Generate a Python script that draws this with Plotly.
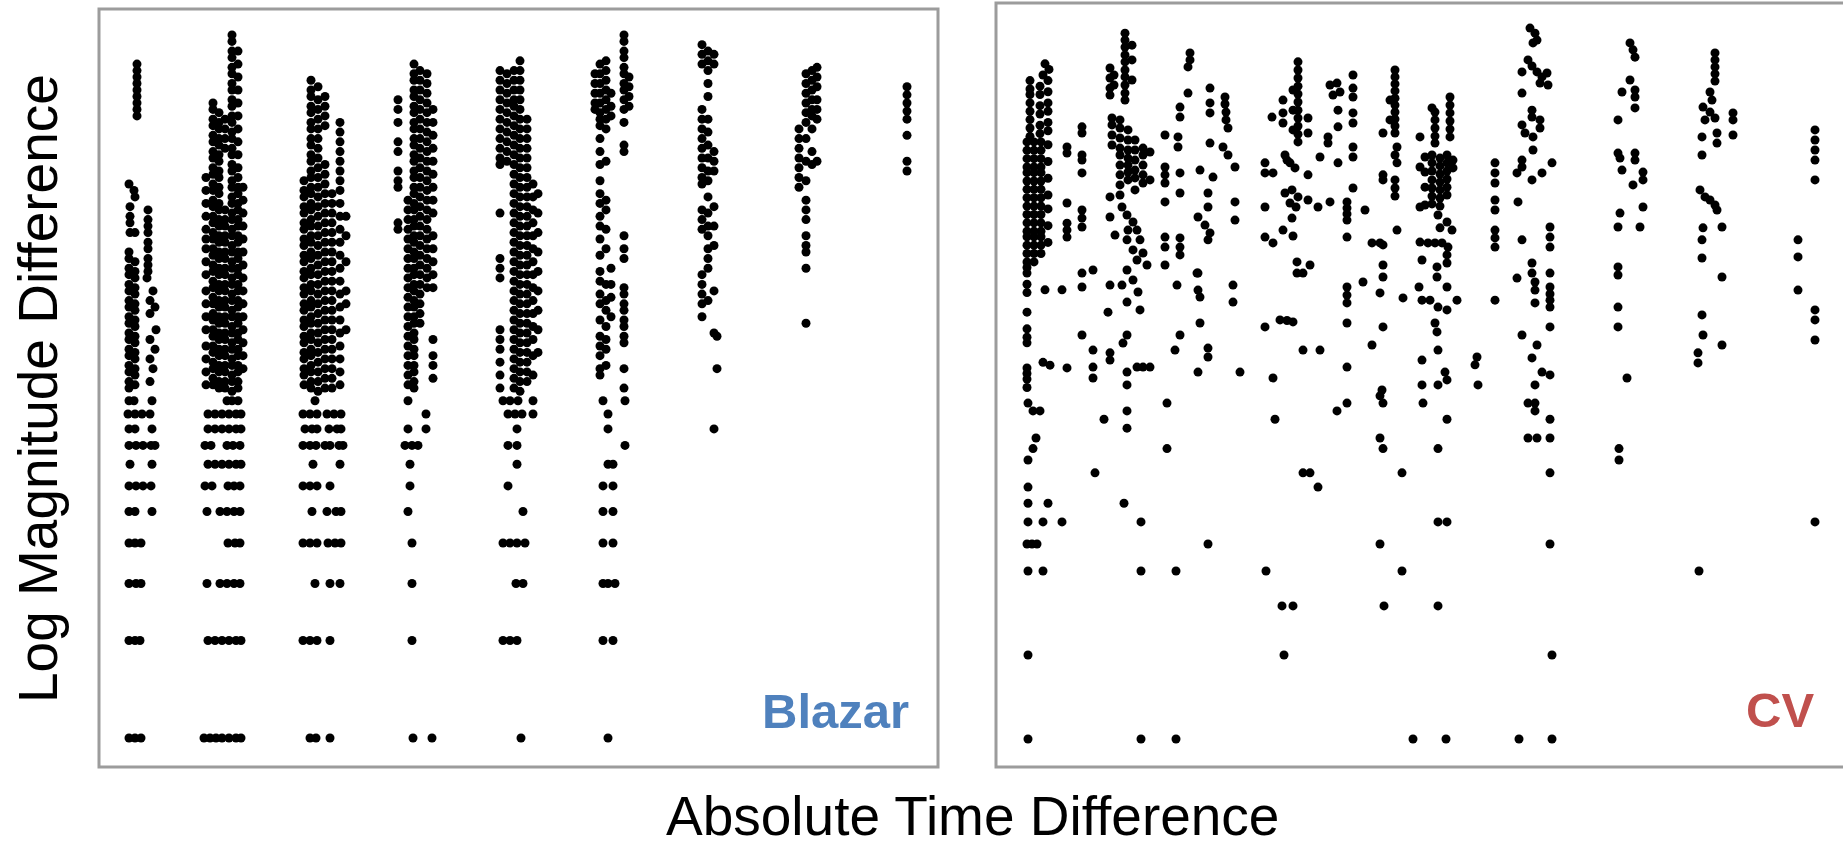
import plotly.graph_objects as go

# ---------------- Blazar panel (left) ----------------
# x: absolute time difference (days), y: log10 magnitude difference
# quantised low-amplitude rows (log10 of 0.11 ... 0.01 mag)
blazar_row_levels = [-0.959, -1.0, -1.046, -1.097, -1.155, -1.222, -1.301, -1.398, -1.523, -1.699, -2.0]
blazar_row_days = [
    [36, 56, 128, 428, 448, 472, 780, 1152, 1532, 1560, 1592, 1652, 1932, 2020],
    [32, 60, 88, 120, 352, 380, 408, 436, 464, 484, 732, 760, 788, 828, 856, 884, 1224, 1552, 1580, 1608, 1652, 1952],
    [36, 60, 128, 352, 380, 408, 436, 464, 484, 740, 768, 788, 836, 868, 884, 1152, 1224, 1588, 1952, 2376],
    [36, 64, 92, 124, 140, 340, 364, 428, 452, 480, 732, 760, 784, 820, 840, 876, 892, 1140, 1168, 1192, 1552, 1588, 2020],
    [40, 128, 352, 380, 408, 436, 464, 484, 772, 880, 1160, 1588, 1952, 1972],
    [36, 64, 92, 124, 340, 368, 432, 456, 480, 732, 760, 788, 840, 1160, 1552, 1932, 1972],
    [36, 60, 128, 348, 400, 428, 456, 480, 768, 828, 864, 884, 1152, 1612, 1932, 1972],
    [36, 60, 84, 432, 460, 480, 732, 760, 788, 832, 860, 884, 1168, 1532, 1560, 1588, 1620, 1932, 1972],
    [36, 64, 84, 348, 400, 428, 456, 480, 780, 840, 880, 1168, 1584, 1612, 1932, 1952, 1980],
    [36, 60, 80, 352, 380, 408, 436, 464, 484, 732, 760, 788, 840, 1168, 1532, 1560, 1588, 1932, 1972],
    [36, 60, 84, 336, 360, 384, 408, 436, 464, 484, 760, 784, 840, 1172, 1248, 1604, 1952],
]

# upper (larger amplitude) points, grouped by season: (days, [log dmag, ...])
blazar_A = [
    (68, [0.08, 0.06, 0.04, 0.02, 0.0, -0.02, -0.04, -0.06, -0.08]),
    (36, [-0.29]), (56, [-0.31]), (60, [-0.33, -0.44]),
    (40, [-0.36, -0.39, -0.41, -0.44]),
    (112, [-0.37, -0.40, -0.42, -0.44, -0.47, -0.49, -0.52, -0.54, -0.56]),
    (36, [-0.50, -0.52, -0.55, -0.57, -0.60, -0.62, -0.65, -0.67, -0.70, -0.72, -0.75, -0.77, -0.80, -0.82, -0.85, -0.87, -0.90, -0.92]),
    (60, [-0.53, -0.56, -0.58, -0.61, -0.63, -0.66, -0.68, -0.71, -0.73, -0.76, -0.78, -0.81, -0.83, -0.86, -0.88, -0.91]),
    (108, [-0.58]), (132, [-0.62, -0.86]), (120, [-0.65, -0.69, -0.77, -0.83, -0.90]),
    (140, [-0.67, -0.80]), (144, [-0.74]),
]
blazar_B = [
    (448, [0.17, 0.15, 0.12, 0.10, 0.07, 0.05, 0.02, 0.0, -0.03, -0.05, -0.08, -0.10, -0.13, -0.15, -0.18, -0.20, -0.23, -0.25, -0.28, -0.30, -0.33, -0.35, -0.38, -0.40, -0.43, -0.45, -0.48, -0.50, -0.53, -0.55, -0.58, -0.60, -0.63, -0.65, -0.68, -0.70, -0.73, -0.75, -0.78, -0.80, -0.83, -0.85, -0.88, -0.90, -0.93]),
    (472, [0.12, 0.08, 0.04, 0.0, -0.04, -0.08, -0.12, -0.16, -0.20, -0.24, -0.27, -0.30, -0.32, -0.35, -0.37, -0.40, -0.42, -0.45, -0.47, -0.50, -0.52, -0.55, -0.57, -0.60, -0.62, -0.65, -0.67, -0.70, -0.72, -0.75, -0.77, -0.80, -0.82, -0.85, -0.87, -0.90, -0.92]),
    (492, [-0.30, -0.34, -0.38, -0.42, -0.46, -0.50, -0.54, -0.58, -0.62, -0.66, -0.70, -0.74, -0.78, -0.82, -0.86]),
    (372, [-0.04, -0.06, -0.09, -0.11, -0.14, -0.16, -0.19, -0.21, -0.24, -0.26, -0.29, -0.31, -0.34, -0.36, -0.39, -0.41, -0.44, -0.46, -0.49, -0.51, -0.54, -0.56, -0.59, -0.61, -0.64, -0.66, -0.69, -0.71, -0.74, -0.76, -0.79, -0.81, -0.84, -0.86, -0.89, -0.91]),
    (396, [-0.07, -0.10, -0.12, -0.15, -0.17, -0.20, -0.22, -0.25, -0.27, -0.30, -0.32, -0.35, -0.37, -0.40, -0.42, -0.45, -0.47, -0.50, -0.52, -0.55, -0.57, -0.60, -0.62, -0.65, -0.67, -0.70, -0.72, -0.75, -0.77, -0.80, -0.82, -0.85, -0.87, -0.90, -0.92]),
    (420, [-0.09, -0.12, -0.15, -0.18, -0.37, -0.40, -0.42, -0.45, -0.47, -0.50, -0.52, -0.55, -0.57, -0.60, -0.62, -0.65, -0.67, -0.70, -0.72, -0.75, -0.77, -0.80, -0.82, -0.85, -0.87, -0.90, -0.92]),
    (344, [-0.27, -0.31, -0.35, -0.39, -0.43, -0.46, -0.49, -0.53, -0.57, -0.62, -0.66, -0.70, -0.74, -0.79, -0.83, -0.87, -0.91]),
]
blazar_C = [
    (736, [-0.28, -0.31, -0.33, -0.36, -0.38, -0.41, -0.43, -0.46, -0.48, -0.51, -0.53, -0.56, -0.58, -0.61, -0.63, -0.66, -0.68, -0.71, -0.73, -0.76, -0.78, -0.81, -0.83, -0.86, -0.88, -0.91]),
    (764, [0.03, 0.0, -0.02, -0.05, -0.07, -0.10, -0.12, -0.15, -0.17, -0.20, -0.22, -0.25, -0.27, -0.30, -0.32, -0.35, -0.37, -0.40, -0.42, -0.45, -0.47, -0.50, -0.52, -0.55, -0.57, -0.60, -0.62, -0.65, -0.67, -0.70, -0.72, -0.75, -0.77, -0.80, -0.82, -0.85, -0.87, -0.90, -0.92]),
    (792, [0.01, -0.03, -0.06, -0.09, -0.12, -0.15, -0.18, -0.21, -0.24, -0.27, -0.30, -0.33, -0.36, -0.39, -0.42, -0.45, -0.48, -0.51, -0.54, -0.57, -0.60, -0.63, -0.66, -0.69, -0.72, -0.75, -0.78, -0.81, -0.84, -0.87, -0.90, -0.93]),
    (820, [-0.02, -0.05, -0.08, -0.11, -0.23, -0.26, -0.29, -0.32, -0.35, -0.38, -0.41, -0.44, -0.47, -0.50, -0.53, -0.56, -0.59, -0.62, -0.65, -0.68, -0.71, -0.74, -0.77, -0.80, -0.83, -0.86, -0.89, -0.92]),
    (848, [-0.32, -0.35, -0.38, -0.41, -0.44, -0.47, -0.50, -0.53, -0.56, -0.59, -0.62, -0.65, -0.68, -0.71, -0.74, -0.77, -0.80, -0.83, -0.86, -0.89, -0.92]),
    (880, [-0.10, -0.13, -0.16, -0.19, -0.22, -0.25, -0.28, -0.31, -0.35, -0.39, -0.43, -0.47, -0.51, -0.55, -0.59, -0.63, -0.67, -0.71, -0.75, -0.79, -0.83, -0.87, -0.91]),
    (904, [-0.39, -0.45, -0.53, -0.62, -0.66, -0.74]),
]
blazar_D = [
    (1112, [-0.03, -0.06, -0.10, -0.16, -0.19, -0.25, -0.28, -0.30, -0.41, -0.43]),
    (1152, [-0.34, -0.37, -0.40, -0.43, -0.46, -0.49, -0.52, -0.55, -0.58, -0.61, -0.64, -0.67, -0.70, -0.73, -0.76, -0.79, -0.82, -0.85, -0.88, -0.91]),
    (1176, [0.08, 0.05, 0.03, 0.0, -0.02, -0.05, -0.07, -0.10, -0.12, -0.15, -0.17, -0.20, -0.22, -0.25, -0.27, -0.30, -0.32, -0.35, -0.37, -0.40, -0.42, -0.45, -0.47, -0.50, -0.52, -0.55, -0.57, -0.60, -0.62, -0.65, -0.67, -0.70, -0.72, -0.75, -0.77, -0.80, -0.82, -0.85, -0.87, -0.90, -0.92]),
    (1200, [0.06, 0.03, 0.0, -0.03, -0.06, -0.09, -0.12, -0.15, -0.18, -0.21, -0.24, -0.27, -0.30, -0.33, -0.36, -0.39, -0.42, -0.45, -0.48, -0.51, -0.54, -0.57, -0.60, -0.63, -0.66, -0.69, -0.72]),
    (1228, [0.05, 0.02, -0.01, -0.04, -0.07, -0.10, -0.13, -0.16, -0.19, -0.22, -0.25, -0.28, -0.31, -0.34, -0.37, -0.40, -0.43, -0.46, -0.49, -0.52, -0.55, -0.58, -0.61]),
    (1252, [-0.06, -0.10, -0.14, -0.18, -0.22, -0.26, -0.30, -0.34, -0.38, -0.45, -0.49, -0.53, -0.57, -0.61, -0.77, -0.82, -0.85, -0.89]),
]
blazar_E = [
    (1520, [0.06, 0.03, 0.0, -0.03, -0.06, -0.09, -0.12, -0.15, -0.18, -0.21, -0.23, -0.38, -0.52, -0.55, -0.58, -0.74, -0.77, -0.80, -0.84, -0.88, -0.92]),
    (1548, [0.05, 0.02, -0.01, -0.04, -0.07, -0.10, -0.13, -0.16, -0.19, -0.22]),
    (1576, [0.06, 0.03, 0.0, -0.03, -0.05, -0.08, -0.11, -0.14, -0.17, -0.20, -0.23, -0.26, -0.29, -0.32, -0.35, -0.38, -0.41, -0.44, -0.47, -0.50, -0.53, -0.56, -0.59, -0.62, -0.65, -0.68, -0.71, -0.74, -0.77, -0.80, -0.83, -0.86, -0.89, -0.92]),
    (1600, [0.09, 0.06, 0.03, 0.0, -0.03, -0.06, -0.09, -0.12, -0.15, -0.18, -0.21, -0.24, -0.27, -0.30, -0.33, -0.36, -0.39, -0.42, -0.45, -0.48, -0.51, -0.54, -0.57, -0.60, -0.63, -0.66, -0.69, -0.72, -0.75, -0.78, -0.81, -0.84, -0.87, -0.90, -0.93]),
    (1628, [-0.09, -0.12, -0.15, -0.18, -0.21, -0.24, -0.27, -0.30, -0.33, -0.36, -0.39, -0.42, -0.45, -0.48, -0.51, -0.54, -0.57, -0.60, -0.63, -0.66, -0.69, -0.72, -0.75, -0.78, -0.81, -0.84, -0.87, -0.90]),
    (1652, [-0.29, -0.33, -0.37, -0.41, -0.45, -0.49, -0.53, -0.57, -0.61, -0.65, -0.69, -0.73, -0.77, -0.82, -0.88]),
    (1672, [-0.32, -0.38, -0.44, -0.50, -0.56, -0.62, -0.68, -0.74, -0.81]),
]
blazar_F = [
    (1900, [0.05, 0.02, -0.01, -0.04, -0.06]),
    (1920, [0.08, 0.05, 0.02, -0.01, -0.04, -0.07, -0.09, -0.11, -0.15, -0.19, -0.23, -0.28, -0.32, -0.35, -0.39, -0.42, -0.46, -0.51, -0.56, -0.59, -0.63, -0.66, -0.71, -0.76, -0.79, -0.82, -0.86, -0.88]),
    (1944, [0.09, 0.06, 0.03, 0.0, -0.03, -0.06, -0.09, -0.12, -0.22, -0.34, -0.37, -0.43, -0.49, -0.60, -0.65, -0.68, -0.73, -0.77, -0.80, -0.85]),
    (1964, [-0.01, -0.05, -0.08, -0.55, -0.60, -0.64, -0.70]),
    (2016, [0.17, 0.15, 0.12, 0.10, 0.07, 0.05, 0.02, 0.0, -0.03, -0.06, -0.10, -0.17, -0.19, -0.45, -0.49, -0.52, -0.61, -0.63, -0.66, -0.68, -0.71, -0.73, -0.76, -0.78, -0.86, -0.92]),
    (2036, [0.04, 0.01, -0.02, -0.05]),
]
blazar_G = [
    (2328, [0.14, 0.11, 0.08, -0.06, -0.09, -0.12, -0.15, -0.18, -0.21, -0.24, -0.27, -0.29, -0.37, -0.40, -0.43, -0.57, -0.60, -0.63, -0.66, -0.70]),
    (2352, [0.12, 0.09, 0.06, 0.02, -0.02, -0.09, -0.13, -0.17, -0.21, -0.25, -0.28, -0.33, -0.38, -0.42, -0.45, -0.49, -0.52, -0.55, -0.65]),
    (2376, [0.11, 0.08, -0.19, -0.22, -0.25, -0.36, -0.42, -0.48, -0.62, -0.75]),
    (2388, [-0.76, -0.86]),
]
blazar_H = [
    (2716, [-0.12, -0.15, -0.18, -0.21, -0.24, -0.27, -0.30]),
    (2744, [0.05, 0.02, -0.01, -0.04, -0.07, -0.10, -0.15, -0.22, -0.28, -0.34, -0.37, -0.40, -0.45, -0.48, -0.50, -0.55, -0.72]),
    (2768, [0.06, 0.03, 0.0, -0.03, -0.06, -0.08, -0.12, -0.19, -0.23]),
    (2788, [0.07, 0.04, 0.01, -0.03, -0.06, -0.09, -0.22]),
]
blazar_I = [
    (3148, [0.01, -0.015, -0.04, -0.065, -0.09, -0.14, -0.22, -0.25]),
]

# ---------------- CV panel (right) ----------------
cv_R1 = [
    (140, [0.42]), (156, [0.40]), (132, [0.38]),
    (80, [0.36, 0.33, 0.31, 0.28, 0.25, 0.22, 0.19, 0.16]),
    (120, [0.34, 0.31, 0.27, 0.24, 0.20, 0.17]),
    (152, [0.36, 0.32, 0.28, 0.25, 0.21, 0.18, 0.13, 0.07, 0.01, -0.05, -0.10, -0.16, -0.22]),
    (68, [0.14, 0.11, 0.08, 0.05, 0.03, 0.0, -0.03, -0.06, -0.09, -0.12, -0.15, -0.18, -0.20, -0.23, -0.26, -0.29, -0.31, -0.33, -0.37, -0.40, -0.47, -0.53, -0.56, -0.58, -0.67, -0.69, -0.71, -0.74]),
    (96, [0.14, 0.11, 0.08, 0.05, 0.03, 0.0, -0.03, -0.06, -0.09, -0.12, -0.15, -0.18, -0.20, -0.23, -0.26, -0.29]),
    (124, [0.14, 0.11, 0.08, 0.05, 0.03, 0.0, -0.03, -0.06, -0.09, -0.12, -0.15, -0.18, -0.20, -0.23, -0.26]),
    (140, [-0.39]), (208, [-0.39, -1.222]), (132, [-0.65, -1.222, -1.398]), (160, [-0.66]), (228, [-0.67]),
    (72, [-0.796, -1.0, -1.097, -1.155, -1.222, -1.398, -1.699, -2.0]),
    (92, [-0.824, -0.959]), (120, [-0.824]), (104, [-0.921]), (152, [-1.155]),
    (68, [-1.301]), (88, [-1.301]), (108, [-1.301]),
]
cv_R2 = [
    (288, [0.194, 0.172, 0.093, 0.075, 0.029, -0.104, -0.133, -0.165, -0.330, -0.380, -0.552]),
    (228, [0.122, 0.100, -0.079, -0.151, -0.176, -0.201]),
    (332, [-0.319, -0.606, -0.667, -0.706]),
    (340, [-1.046]), (376, [-0.854]),
]
cv_R3 = [
    (460, [0.53, 0.505, 0.48, 0.452, 0.427, 0.398, 0.373, 0.344, 0.315, 0.29]),
    (400, [0.405, 0.369, 0.333, 0.308]), (416, [0.38, 0.344]), (488, [0.487, 0.434, 0.362]),
    (408, [0.226, 0.201, 0.165, 0.129]),
    (440, [0.219, 0.190, 0.154, 0.118, 0.093, 0.057, 0.022, -0.014, -0.050]),
    (472, [0.183, 0.147, 0.111, 0.082, 0.057, 0.032, 0.004, -0.176]),
    (500, [0.147, 0.111, 0.075, 0.039, 0.011, -0.032]),
    (532, [0.118, 0.093, 0.057, 0.022, -0.007, -0.258, -0.667]),
    (560, [0.104, 0.004, -0.667]),
    (400, [-0.057, -0.129, -0.373, -0.616, -0.642]),
    (448, [-0.093, -0.373]),
    (468, [-0.122, -0.211, -0.319, -0.434, -0.552, -0.685, -0.731, -0.824, -0.886]),
    (492, [-0.147, -0.247, -0.355]),
    (508, [-0.176, -0.283, -0.667]),
    (520, [-0.211, -0.462]),
    (420, [-0.194]), (548, [-0.301]), (512, [-0.398]), (392, [-0.470]), (452, [-0.581]),
    (456, [-1.155]), (524, [-1.222, -1.398, -2.0]),
]
cv_R4 = [
    (720, [0.459, 0.434]), (712, [0.409, 0.315]),
    (680, [0.265, 0.229, 0.029, -0.043, -0.204, -0.237, -0.265, -0.552]),
    (620, [0.165, 0.050, 0.022, -0.007, -0.075, -0.201, -0.237, -0.301]),
    (672, [0.158, 0.122]),
    (668, [-0.373]), (748, [-0.330]), (660, [-0.606]),
    (628, [-0.796, -0.959]), (664, [-1.398, -2.0]),
]
cv_R5 = [
    (800, [0.333, 0.280, 0.244, 0.136, -0.186]),
    (860, [0.301, 0.276]), (864, [0.247, 0.219]), (872, [0.190, 0.093]),
    (852, [0.122]), (900, [0.050, -0.075, -0.140]),
    (760, [0.039, -0.416, -0.509]), (812, [0.014]),
    (792, [-0.043, -0.093, -0.211, -0.599, -0.631, -1.301]),
    (752, [-0.129, -0.330, -0.391, -0.685]), (780, [-0.158]),
    (892, [-0.373, -0.434]), (920, [-0.685]),
]
cv_R6 = [
    (1152, [0.427, 0.398, 0.369, 0.340, 0.312, 0.283, 0.254, 0.226, 0.197, 0.168, 0.140, -0.057]),
    (1132, [0.326, 0.254, 0.183, -0.197, -0.505, -1.523]),
    (1092, [0.290, 0.244, 0.208, -0.176]),
    (1048, [0.229]), (1192, [0.226, 0.172, 0.022, -0.068]),
    (1100, [0.093, -0.043]), (1120, [0.065, -0.079]), (1140, [0.047]), (1108, [0.075, -0.50]),
    (1020, [0.065, 0.029, -0.093, -0.201, -0.523]), (1052, [0.029, -0.222, -0.706]),
    (1128, [-0.032, -0.133]), (1144, [-0.093]),
    (1232, [-0.093, -1.097]), (1280, [-0.075]),
    (1148, [-0.290, -0.330]), (1200, [-0.301, -1.046]), (1172, [-0.330, -0.606, -1.046]),
    (1080, [-0.498]), (1240, [-0.606]),
    (1060, [-0.854]), (1024, [-1.398]), (1088, [-1.523]), (1096, [-1.699]),
]
cv_R7 = [
    (1280, [0.344]), (1308, [0.351, -0.824]), (1320, [0.319]), (1292, [0.308]),
    (1312, [0.254, 0.194, 0.065]), (1272, [0.158, 0.136]), (1240, [0.086]),
    (1372, [0.380, 0.333, 0.301, 0.244, 0.208, 0.122, 0.086, -0.025]),
    (1348, [-0.075, -0.097, -0.118, -0.140, -0.201, -0.380, -0.409, -0.437, -0.509, -0.667, -0.796]),
    (1420, [-0.104]), (1412, [-0.362]), (1448, [-0.588, -0.222]), (1480, [-0.222]),
]
cv_R8 = [
    (1540, [0.398, 0.373, 0.348, 0.323, 0.297, 0.272, 0.247, 0.222, 0.197, 0.172, 0.093, 0.004, -0.025, -0.054]),
    (1520, [0.290, 0.219]),
    (1492, [0.172, 0.022, 0.004, -0.229, -0.301, -0.344, -0.523, -0.796, -0.959]),
    (1548, [0.122, 0.065, -0.176]),
    (1480, [-0.401, -0.770, -0.921, -1.301]), (1488, [-0.749]), (1572, [-0.419]),
    (1496, [-1.523]), (1568, [-1.046, -1.398]), (1612, [-2.0]),
]
cv_R9 = [
    (1760, [0.301, 0.272, 0.244, 0.215, 0.186, 0.158]),
    (1700, [0.247, 0.219, 0.190, 0.161, 0.136, -0.222, -0.509]),
    (1640, [0.158, 0.050, -0.093, -0.219]), (1636, [-0.380]),
    (1660, [0.086, 0.032, -0.022, -0.086]),
    (1688, [0.262, 0.093, 0.065, 0.036, 0.004, -0.025, -0.054, -0.082]),
    (1720, [0.082, 0.054, 0.025, -0.004, -0.032, -0.061, -0.090, -0.168]),
    (1748, [0.093, 0.065, 0.036, 0.007, -0.022, -0.050, -0.147, -0.265, -0.294, -0.380, -0.462, -0.713, -0.854, -1.222]),
    (1772, [0.075, 0.047]),
    (1712, [-0.122, -0.452, -0.606, -0.731, -0.959, -1.222, -1.523]),
    (1768, [-0.176]), (1672, [-0.222]), (1728, [-0.222]), (1752, [-0.237]),
    (1648, [-0.283, -0.427, -0.642, -0.731]), (1708, [-0.308, -0.344, -0.541]),
    (1680, [-0.427]), (1788, [-0.427]), (1740, [-0.685]),
    (1868, [-0.631]), (1860, [-0.659]), (1872, [-0.731]),
    (1652, [-0.796]), (1744, [-2.0]),
]
cv_R10 = [
    (1940, [0.065, 0.029, -0.007, -0.068, -0.104, -0.176, -0.204, -0.237, -0.427]),
]
cv_R11 = [
    (2080, [0.548]), (2100, [0.530, -0.362, -0.391, -0.437, -0.731, -0.796, -0.824]),
    (2108, [0.505, 0.391, -0.588, -0.921]), (2092, [0.495, 0.158, 0.111]),
    (2072, [0.434, -0.796, -0.921]), (2088, [0.412, 0.254, 0.229, 0.004, -0.294, -0.330, -0.634]),
    (2048, [0.391, 0.315, 0.201, 0.075, 0.050, -0.211, -0.552]),
    (2128, [0.373, 0.029, -0.685]), (2148, [0.387]), (2152, [0.344]), (2120, [0.351, 0.219, 0.190]),
    (2060, [0.172]), (2168, [0.065, -1.699, -2.0]), (2028, [0.029, -0.348]), (2032, [-0.075]),
    (2160, [-0.165, -0.201, -0.237, -0.330, -0.380, -0.405, -0.427, -0.452, -0.523, -0.695, -0.854, -0.921, -1.046, -1.301]),
    (2036, [-2.0]),
]
cv_R12 = [
    (2480, [0.495, 0.362]), (2492, [0.470, -0.014]), (2500, [0.444, 0.326, 0.301, 0.262, 0.100, 0.075]),
    (2448, [0.319, 0.039]), (2432, [0.219, 0.100, -0.165, -0.308, -0.337, -0.452, -0.523]),
    (2440, [0.082, -0.115]), (2532, [0.032, 0.004, -0.093]), (2520, [-0.165]),
    (2468, [-0.706]), (2436, [-0.959, -1.0]),
]
cv_R13 = [
    (2820, [0.459, 0.434, 0.409, 0.384, 0.358, 0.226, -0.086]),
    (2800, [0.319, 0.247, -0.068]), (2808, [0.290]), (2772, [0.265, -0.168, -0.552]), (2780, [0.219, -0.057]),
    (2828, [0.172, 0.136, -0.104]), (2768, [0.158, 0.093, -0.211, -0.276, -0.480]),
    (2892, [0.244, 0.219, 0.165]), (2760, [-0.032]),
    (2848, [-0.165, -0.344, -0.588]), (2752, [-0.616, -0.652]), (2756, [-1.398]),
]
cv_R14 = [
    (3220, [0.183, 0.147, 0.111, 0.075, 0.004, -0.462, -0.498, -0.570, -1.222]),
    (3152, [-0.211, -0.272, -0.391]),
]


def expand(groups):
    xs, ys = [], []
    for grp in groups:
        for x, yl in grp:
            for y in yl:
                xs.append(x)
                ys.append(y)
    return xs, ys


bx, by = expand([blazar_A, blazar_B, blazar_C, blazar_D, blazar_E, blazar_F, blazar_G, blazar_H, blazar_I])
for lvl, days in zip(blazar_row_levels, blazar_row_days):
    for d in days:
        bx.append(d)
        by.append(lvl)

cx, cy = expand([cv_R1, cv_R2, cv_R3, cv_R4, cv_R5, cv_R6, cv_R7, cv_R8, cv_R9,
                 cv_R10, cv_R11, cv_R12, cv_R13, cv_R14])

W, H = 1843, 850
FONT = "Liberation Sans, Arial, Helvetica, sans-serif"
MARKER = dict(size=9, color="black")

fig = go.Figure()
fig.add_trace(go.Scatter(x=bx, y=by, mode="markers", xaxis="x", yaxis="y",
                         marker=MARKER, hoverinfo="skip"))
fig.add_trace(go.Scatter(x=cx, y=cy, mode="markers", xaxis="x2", yaxis="y2",
                         marker=MARKER, hoverinfo="skip"))

bottom = 1 - 767 / H
fig.update_layout(
    width=W, height=H,
    margin=dict(l=0, r=0, t=0, b=0),
    paper_bgcolor="white", plot_bgcolor="white",
    showlegend=False,
    xaxis=dict(domain=[99 / W, 938 / W], range=[-84, 3272], visible=False, anchor="y"),
    yaxis=dict(domain=[bottom, 1 - 9 / H], range=[-2.0895, 0.25], visible=False, anchor="x"),
    xaxis2=dict(domain=[996 / W, 1.0], range=[-56, 3332], visible=False, anchor="y2"),
    yaxis2=dict(domain=[bottom, 1 - 3 / H], range=[-2.1004, 0.638], visible=False, anchor="x2"),
    shapes=[
        dict(type="rect", xref="paper", yref="paper", x0=99 / W, x1=938 / W, y0=bottom, y1=1 - 9 / H,
             line=dict(color="#9c9c9c", width=3), layer="above"),
        dict(type="rect", xref="paper", yref="paper", x0=996 / W, x1=1.05, y0=bottom, y1=1 - 3 / H,
             line=dict(color="#9c9c9c", width=3), layer="above"),
    ],
    annotations=[
        dict(text="Log Magnitude Difference", xref="paper", yref="paper", x=38 / W, y=1 - 389 / H,
             xanchor="center", yanchor="middle", textangle=-90, showarrow=False,
             font=dict(family=FONT, size=55, color="black")),
        dict(text="Absolute Time Difference", xref="paper", yref="paper", x=972 / W, y=1 - 816 / H,
             xanchor="center", yanchor="middle", showarrow=False,
             font=dict(family=FONT, size=55, color="black")),
        dict(text="<b>Blazar</b>", xref="paper", yref="paper", x=835 / W, y=1 - 711 / H,
             xanchor="center", yanchor="middle", showarrow=False,
             font=dict(family=FONT, size=49, color="#4f81bd")),
        dict(text="<b>CV</b>", xref="paper", yref="paper", x=1780 / W, y=1 - 710 / H,
             xanchor="center", yanchor="middle", showarrow=False,
             font=dict(family=FONT, size=49, color="#c0504d")),
    ],
)

fig.write_html("out.html")
